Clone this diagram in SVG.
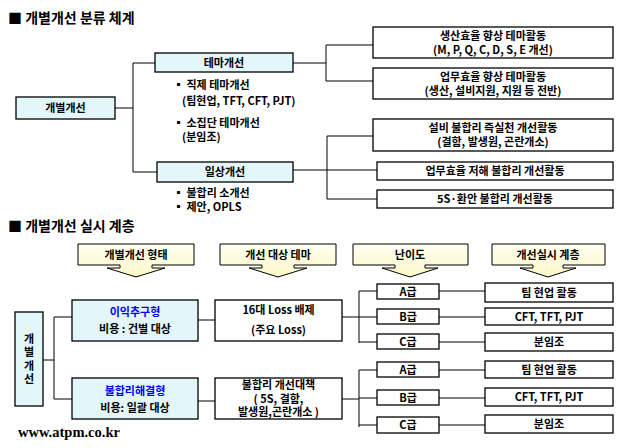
<svg xmlns="http://www.w3.org/2000/svg" width="620" height="448" viewBox="0 0 620 448">
<defs>
<linearGradient id="yel" x1="0" y1="0" x2="0" y2="1">
<stop offset="0" stop-color="#FFFFF0"/>
<stop offset="1" stop-color="#FCF8C8"/>
</linearGradient>
</defs>
<style>
text{font-family:"Noto Sans CJK KR","Liberation Sans",sans-serif;font-weight:bold;font-size:11px;fill:#000}
.c{text-anchor:middle}
.t{font-size:14px}
.b{fill:#0000FF}
.box{fill:#fff;stroke:#000;stroke-width:1.3}
.cy{fill:#E3F6FA;stroke:#000;stroke-width:1.3}
.hd{fill:url(#yel);stroke:#000;stroke-width:1}
.ln{fill:none;stroke:#000;stroke-width:1}
.web{font-family:"Liberation Serif",serif;font-size:14.5px}
.v{writing-mode:vertical-rl;text-anchor:middle;letter-spacing:2.5px}
</style>
<rect width="620" height="448" fill="#fff"/>
<text x="8" y="23" class="t">■ 개별개선 분류 체계</text>
<text x="8" y="231" class="t">■ 개별개선 실시 계층</text>

<g id="connectors">
<path class="ln" d="M115,108 H133 M133,63 V172 M133,63 H155 M133,172 H157"/>
<path class="ln" d="M293,63 H326 M326,45 V81 M326,45 H373 M326,81 H373"/>
<path class="ln" d="M293,170 H377 M327,136 V199 M327,136 H373 M327,199 H377"/>
<path class="ln" d="M43,360 H54 M54,317 V399 M54,317 H72 M54,399 H72"/>
<path class="ln" d="M198,320 H215 M198,401 H215"/>
<path class="ln" d="M342,317 H359 M359,291 V343 M359,291 H377 M359,317 H377 M359,342 H377"/>
<path class="ln" d="M439,291 H485 M439,317 H485 M439,342 H485"/>
<path class="ln" d="M342,399 H359 M359,370 V427 M359,370 H377 M359,398 H377 M359,425 H377"/>
<path class="ln" d="M439,370 H485 M439,398 H485 M439,425 H485"/>
</g>

<g id="n-root"><rect class="cy" x="16" y="97" width="99" height="22"/><text class="c" x="65.5" y="112">개별개선</text></g>
<g id="n-theme"><rect class="cy" x="155" y="53" width="138" height="19"/><text class="c" x="224" y="66.5">테마개선</text></g>
<g id="n-daily"><rect class="cy" x="157" y="162" width="136" height="20"/><text class="c" x="225" y="176">일상개선</text></g>
<g id="n-theme-notes">
<text x="173" y="89">▪ 직제 테마개선<tspan x="182" dy="16">(팀현업, TFT, CFT, PJT)</tspan></text>
<text x="173" y="127">▪ 소집단 테마개선<tspan x="182" dy="14">(분임조)</tspan></text>
</g>
<g id="n-daily-notes">
<text x="173" y="197">▪ 불합리 소개선<tspan x="173" dy="14">▪ 제안, OPLS</tspan></text>
</g>
<g id="n-r1"><rect class="box" x="373" y="27" width="240" height="31"/><text class="c" x="493" y="40">생산효율 향상 테마활동<tspan x="493" dy="14">(M, P, Q, C, D, S, E 개선)</tspan></text></g>
<g id="n-r2"><rect class="box" x="373" y="68" width="240" height="31"/><text class="c" x="493" y="81">업무효율 향상 테마활동<tspan x="493" dy="14">(생산, 설비지원, 지원 등 전반)</tspan></text></g>
<g id="n-r3"><rect class="box" x="373" y="119" width="240" height="32"/><text class="c" x="493" y="132">설비 불합리 즉실천 개선활동<tspan x="493" dy="14">(결함, 발생원, 곤란개소)</tspan></text></g>
<g id="n-r4"><rect class="box" x="377" y="162" width="236" height="18"/><text class="c" x="495" y="175">업무효율 저해 불합리 개선활동</text></g>
<g id="n-r5"><rect class="box" x="377" y="190" width="236" height="18"/><text class="c" x="495" y="203">5S·환안 불합리 개선활동</text></g>

<g id="h1"><path class="hd" d="M78,244 H194 V265 H152 V268 H165 L136,277 L107,268 H120 V265 H78 Z"/><text class="c" x="136" y="258.5">개별개선 형태</text></g>
<g id="h2"><path class="hd" d="M220,244 H336 V265 H294 V268 H307 L278,277 L249,268 H262 V265 H220 Z"/><text class="c" x="278" y="258.5">개선 대상 테마</text></g>
<g id="h3"><path class="hd" d="M353,244 H468 V265 H425 V268 H438 L410,277 L382,268 H395 V265 H353 Z"/><text class="c" x="410" y="258.5">난이도</text></g>
<g id="h4"><path class="hd" d="M492,244 H605 V265 H563 V268 H576 L548,277 L520,268 H533 V265 H492 Z"/><text class="c" x="548" y="258.5">개선실시 계층</text></g>

<g id="n-left"><rect class="cy" x="15" y="312" width="28" height="94"/>
<text class="v" x="29" y="360">개별개선</text></g>
<g id="n-profit"><rect class="cy" x="72" y="300" width="126" height="41"/><text class="c" x="135" y="316"><tspan class="b">이익추구형</tspan><tspan x="135" dy="17">비용 : 건별 대상</tspan></text></g>
<g id="n-fix"><rect class="cy" x="72" y="378" width="126" height="41"/><text class="c" x="135" y="395"><tspan class="b">불합리해결형</tspan><tspan x="135" dy="17">비용: 일괄 대상</tspan></text></g>
<g id="n-loss"><rect class="box" x="215" y="300" width="127" height="41"/><text class="c" x="278.5" y="314">16대 Loss 배제<tspan x="278.5" dy="20">(주요 Loss)</tspan></text></g>
<g id="n-plan"><rect class="box" x="215" y="378" width="127" height="41"/><text class="c" x="278.5" y="389">불합리 개선대책<tspan x="278.5" dy="14">( 5S, 결함,</tspan><tspan x="278.5" dy="13">발생원,곤란개소 )</tspan></text></g>

<g id="n-a1"><rect class="box" x="377" y="284" width="62" height="15"/><text class="c" x="408" y="295.5">A급</text></g>
<g id="n-b1"><rect class="box" x="377" y="309" width="62" height="15"/><text class="c" x="408" y="320.5">B급</text></g>
<g id="n-c1"><rect class="box" x="377" y="334" width="62" height="15"/><text class="c" x="408" y="345.5">C급</text></g>
<g id="n-a2"><rect class="box" x="377" y="362" width="62" height="15"/><text class="c" x="408" y="373.5">A급</text></g>
<g id="n-b2"><rect class="box" x="377" y="390" width="62" height="15"/><text class="c" x="408" y="401.5">B급</text></g>
<g id="n-c2"><rect class="box" x="377" y="417" width="62" height="16"/><text class="c" x="408" y="429">C급</text></g>

<g id="n-t1"><rect class="box" x="485" y="283" width="128" height="19"/><text class="c" x="549" y="296.5">팀 현업 활동</text></g>
<g id="n-t2"><rect class="box" x="485" y="308" width="128" height="17"/><text class="c" x="549" y="320.5">CFT, TFT, PJT</text></g>
<g id="n-t3"><rect class="box" x="485" y="333" width="128" height="18"/><text class="c" x="549" y="346">분임조</text></g>
<g id="n-t4"><rect class="box" x="485" y="361" width="128" height="17"/><text class="c" x="549" y="373.5">팀 현업 활동</text></g>
<g id="n-t5"><rect class="box" x="485" y="388" width="128" height="18"/><text class="c" x="549" y="401">CFT, TFT, PJT</text></g>
<g id="n-t6"><rect class="box" x="485" y="415" width="128" height="18"/><text class="c" x="549" y="428">분임조</text></g>

<text class="web" x="18" y="437">www.atpm.co.kr</text>
</svg>
